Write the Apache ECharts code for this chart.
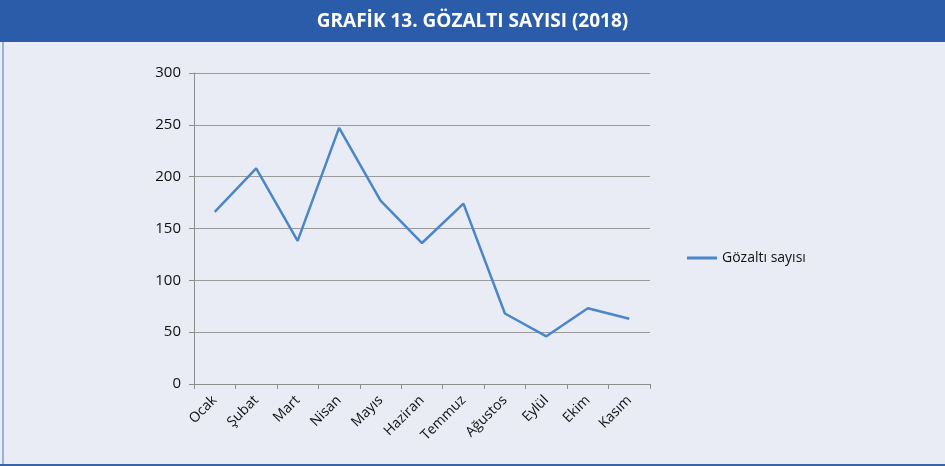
<!DOCTYPE html>
<html>
<head>
<meta charset="utf-8">
<script src="https://cdn.jsdelivr.net/npm/echarts@6/dist/echarts.min.js"></script>
<style>
  html, body { margin: 0; padding: 0; background: #E9ECF5; }
  #chart { width: 945px; height: 466px; }
</style>
</head>
<body>
<div id="chart"></div>
<script>
// veriler
const months = ['Ocak', 'Şubat', 'Mart', 'Nisan', 'Mayıs', 'Haziran', 'Temmuz', 'Ağustos', 'Eylül', 'Ekim', 'Kasım']
const gozaltiSayisi = [166, 208, 138, 247, 177, 136, 174, 68, 46, 73, 63]
const seriesName = 'Gözaltı sayısı'
const chartTitle = 'GRAFİK 13. GÖZALTI SAYISI (2018)'

const chart = echarts.init(document.getElementById('chart'))

chart.setOption({
  backgroundColor: '#E9ECF5',
  animation: false,
  graphic: [
    {
      type: 'rect',
      shape: { x: 0, y: 0, width: 945, height: 42 },
      style: { fill: '#2B5CA9' },
      z: -1
    },
    {
      type: 'rect',
      shape: { x: 2, y: 42, width: 2, height: 424 },
      style: { fill: '#9DB0D6' }
    },
    {
      type: 'rect',
      shape: { x: 0, y: 464, width: 945, height: 2 },
      style: { fill: '#3A64A8' }
    }
  ],
  title: {
    text: chartTitle,
    left: 'center',
    top: 7,
    textStyle: {
      color: '#fff',
      fontFamily: 'Open Sans',
      fontWeight: 'bold',
      fontSize: 19
    }
  },
  legend: {
    data: [seriesName],
    orient: 'vertical',
    left: 682,
    top: 246,
    itemWidth: 30,
    itemHeight: 3,
    icon: 'rect',
    textStyle: {
      fontFamily: 'Open Sans',
      fontSize: 14,
      color: '#111'
    }
  },
  grid: {
    left: 194,
    right: 295,
    top: 73,
    bottom: 82
  },
  xAxis: {
    type: 'category',
    boundaryGap: true,
    data: months,
    axisLine: { lineStyle: { color: '#8E8E8E', width: 1 } },
    axisTick: { show: true, length: 5, lineStyle: { color: '#8E8E8E' } },
    axisLabel: {
      rotate: 45,
      margin: 14,
      fontFamily: 'Open Sans',
      fontSize: 14,
      color: '#111'
    }
  },
  yAxis: {
    type: 'value',
    min: 0,
    max: 300,
    interval: 50,
    axisLine: { show: true, lineStyle: { color: '#8E8E8E', width: 1 } },
    axisTick: { show: true, length: 5, lineStyle: { color: '#8E8E8E' } },
    splitLine: { lineStyle: { color: '#9A9A9A', width: 1 } },
    axisLabel: {
      margin: 13,
      fontFamily: 'Open Sans',
      fontSize: 15,
      color: '#111'
    }
  },
  series: [
    {
      name: seriesName,
      type: 'line',
      data: gozaltiSayisi,
      symbol: 'none',
      lineStyle: { color: '#4A86C8', width: 2.5 },
      itemStyle: { color: '#4A86C8' }
    }
  ]
})
</script>
</body>
</html>
